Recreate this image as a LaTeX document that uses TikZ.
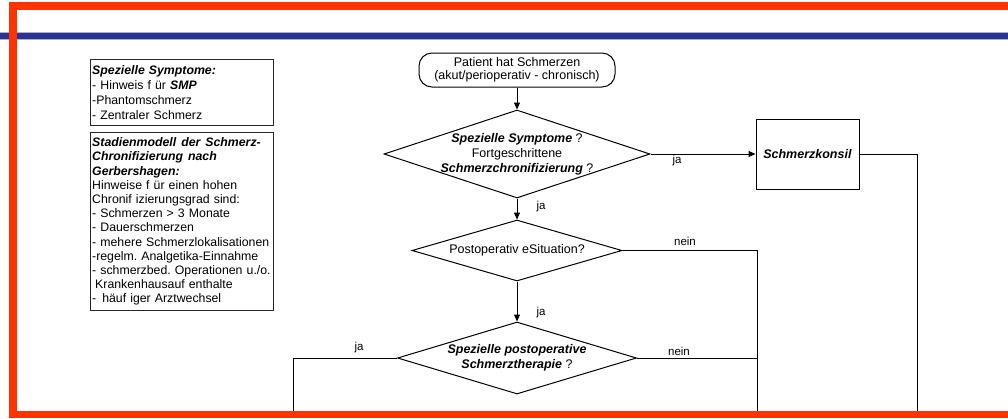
\documentclass[tikz,border=0pt]{standalone}
\usepackage{fontspec}
\setmainfont{Liberation Sans}
\usetikzlibrary{shapes.geometric,arrows.meta}
\definecolor{framered}{RGB}{255,51,0}
\definecolor{barblue}{RGB}{43,53,145}
\begin{document}
\frenchspacing
\begin{tikzpicture}[x=1pt,y=-1pt,
  every node/.style={font=\fontsize{12.5}{14}\selectfont},
  conn/.style={line width=1pt, draw=black},
  arr/.style={conn,-{Triangle[length=7pt,width=6pt]}},
  decision/.style={diamond, draw=black, line width=1pt, inner sep=0pt},
  infobox/.style={draw=black!85, line width=1.4pt, text width=180pt, inner xsep=1.5pt, inner ysep=0pt, align=left, anchor=north west},
  term/.style={rectangle, rounded corners=13pt, draw, line width=1pt, minimum width=196pt, minimum height=34pt, align=center, inner sep=0pt, font=\fontsize{12.5}{13}\selectfont},
  proc/.style={rectangle, draw, line width=1pt, minimum width=103pt, minimum height=70pt},
  lbl/.style={inner sep=0pt, font=\fontsize{11.5}{13}\selectfont},
  dtext/.style={align=center, inner sep=0pt, font=\fontsize{12.5}{15}\selectfont}
]
\useasboundingbox (0,0) rectangle (1008,418);
% blue bar
\fill[barblue!40] (0,32.3) rectangle (1008,39.7);
\fill[barblue] (0,33) rectangle (1008,39);

% info boxes
\node[infobox, minimum height=66pt, font=\fontsize{12.3}{15}\selectfont] (sym) at (90,59) {\textbf{\textit{Spezielle Symptome:}}\\
- Hinweis f ür \textbf{\textit{SMP}}\\
-Phantomschmerz\\
- Zentraler Schmerz};
\node[infobox, minimum height=178pt, font=\fontsize{12.3}{14.2}\selectfont] (stad) at (90,132) {\textbf{\textit{Stadienmodell\hspace{5pt}der\hspace{5pt}Schmerz-}}\\
\textbf{\textit{Chronifizierung\hspace{5pt}nach}}\\
\textbf{\textit{Gerbershagen:}}\\
Hinweise f ür einen hohen\\
Chronif izierungsgrad sind:\\
- Schmerzen > 3 Monate\\
- Dauerschmerzen\\
- mehere Schmerzlokalisationen\\
-regelm. Analgetika-Einnahme\\
- schmerzbed. Operationen u./o.\\
\hspace*{3pt}Krankenhausauf enthalte\\
-\hspace*{6pt}häuf iger Arztwechsel};

% flow nodes
\node[term] (start) at (517,70) {Patient hat Schmerzen\\(akut/perioperativ - chronisch)};
\node[decision, minimum width=266pt, minimum height=88pt] (d1) at (517,154) {};
\node[dtext] (d1t) at (d1.center) {\textbf{\textit{Spezielle Symptome}} ?\\Fortgeschrittene\\\textbf{\textit{Schmerzchronifizierung}} ?};
\node[decision, minimum width=210pt, minimum height=61pt] (d2) at (517,250.5) {};
\node[dtext] (d2t) at (d2.center) {Postoperativ eSituation?};
\node[decision, minimum width=239pt, minimum height=72pt] (d3) at (517,358) {};
\node[dtext, font=\fontsize{12.5}{14.5}\selectfont] (d3t) at (d3.center) {\textbf{\textit{Spezielle postoperative}}\\\textbf{\textit{Schmerztherapie}} ?};
\node[proc] (konsil) at (807.5,154) {\textbf{\textit{Schmerzkonsil}}};

% helper coordinates
\coordinate (kR) at (917,154);
\coordinate (kB) at (917,411);
\coordinate (n1) at (757,250.5);
\coordinate (n1b) at (757,411);
\coordinate (jL) at (293,358);
\coordinate (jLb) at (293,411);

% connectors
\draw[arr] (start.south) -- (d1.north);
\draw[arr] (d1.east) -- (konsil.west);
\draw[arr] (d1.south) -- (d2.north);
\draw[arr] (d2.south) -- (d3.north);
\draw[conn] (konsil.east) -- (kR) -- (kB);
\draw[conn] (d2.east) -- (n1) -- (n1b);
\draw[conn] (d3.east) -- (d3.east -| n1);
\draw[conn] (d3.west) -- (jL) -- (jLb);

% labels
\node[lbl] (l1) at (677,161) {ja};
\node[lbl] (l2) at (541,207) {ja};
\node[lbl] (l3) at (685,241) {nein};
\node[lbl] (l4) at (541,313) {ja};
\node[lbl] (l5) at (679,351) {nein};
\node[lbl] (l6) at (359,348) {ja};

% red frame
\fill[framered] (9,2) rectangle (1008,10);
\fill[framered] (9,2) rectangle (16.5,418);
\fill[framered] (9,410.5) rectangle (1008,418);
\end{tikzpicture}
\end{document}
